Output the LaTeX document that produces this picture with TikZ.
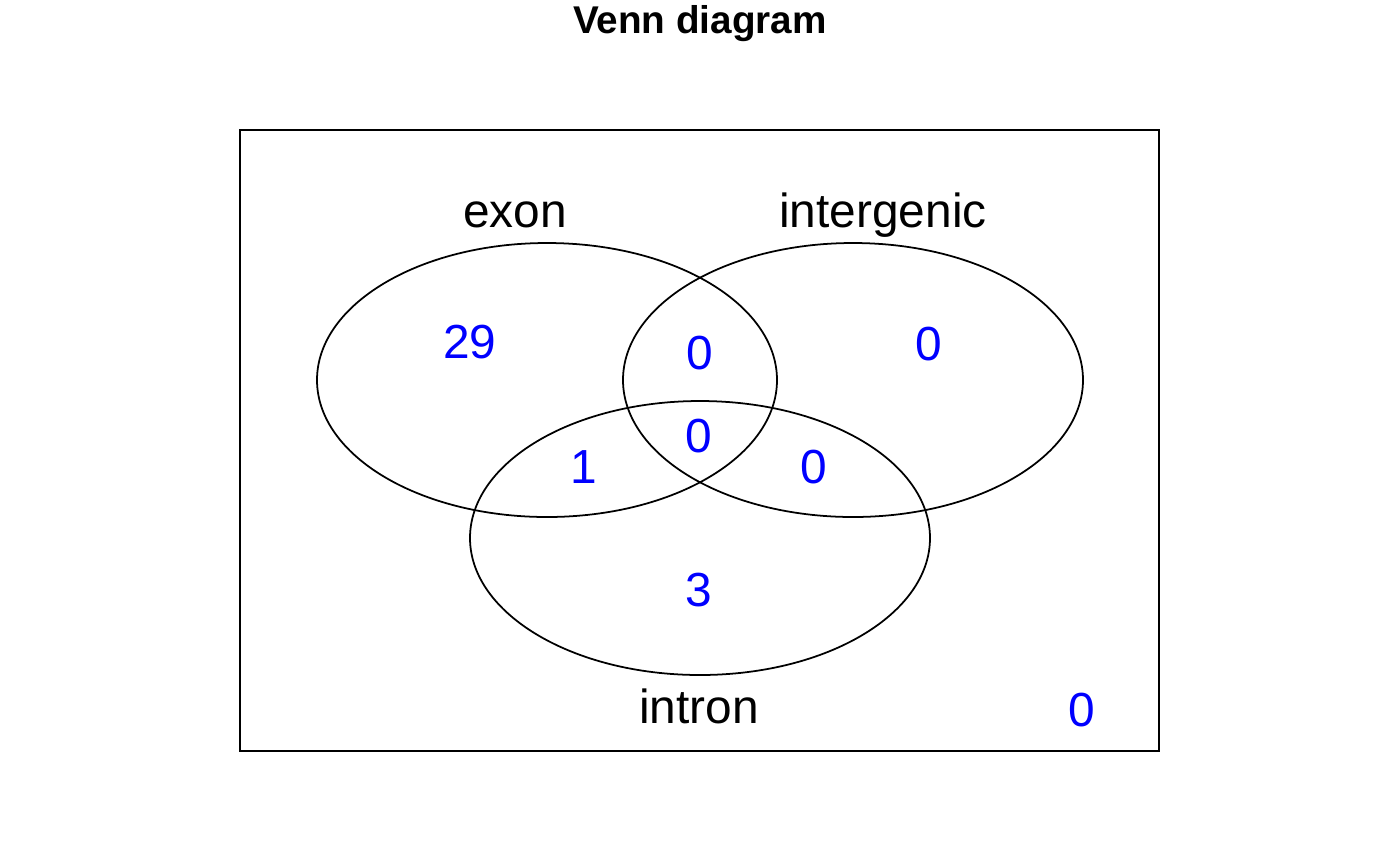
\documentclass[tikz,border=0pt]{standalone}
\usepackage{fontspec}
\setmainfont{Liberation Sans}
\begin{document}
\begin{tikzpicture}[x=0.01cm,y=-0.01cm,
  setline/.style={draw=black,line width=0.5pt},
  setlabel/.style={anchor=base,inner sep=0pt,font=\fontsize{13.6pt}{15pt}\selectfont},
  count/.style={anchor=base,inner sep=0pt,text=blue,font=\fontsize{13.6pt}{15pt}\selectfont},
  titletext/.style={anchor=base,inner sep=0pt,font=\fontsize{11pt}{13pt}\selectfont\bfseries}]
\useasboundingbox (0,0) rectangle (1400,866);
\node[titletext] (title) at (700,33) {Venn diagram};
\draw[setline] (240,130) rectangle (1159,751);
\draw[setline] (547,380) ellipse [x radius=230, y radius=137];
\draw[setline] (853,380) ellipse [x radius=230, y radius=137];
\draw[setline] (700,538) ellipse [x radius=230, y radius=137];
\node[setlabel] (lexon) at (515,227) {exon};
\node[setlabel] (linter) at (883,227) {intergenic};
\node[setlabel] (lintron) at (699,723) {intron};
\node[count] (c1) at (470,358) {29};
\node[count] (c2) at (700,369) {0};
\node[count] (c3) at (929,360) {0};
\node[count] (c4) at (699,452) {0};
\node[count] (c5) at (584,483) {1};
\node[count] (c6) at (814,483) {0};
\node[count] (c7) at (699,606) {3};
\node[count] (c8) at (1082,726) {0};
\end{tikzpicture}
\end{document}
